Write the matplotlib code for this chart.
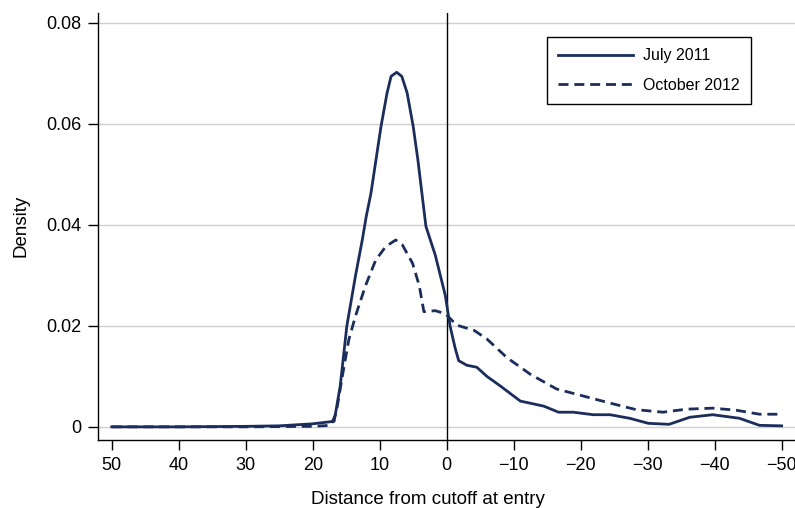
import matplotlib
matplotlib.use('Agg')
import matplotlib.pyplot as plt

# values
july_x = [50, 40, 30, 25, 20, 16.8, 15.9, 14.9, 13.6, 12.6, 12.0, 11.3, 10.55, 9.8, 8.9,
          8.3, 7.47, 6.7, 5.9, 5.0, 4.3, 3.7, 3.1, 1.7, 0.2, -0.5, -1.3, -1.8, -3.0,
          -4.5, -6.0, -8.0, -11.0, -14.5, -16.7, -18.9, -21.9, -24.4, -27.3, -30.1,
          -33.2, -36.3, -39.7, -43.7, -46.7, -50]
july_y = [0, 0, 0.0001, 0.0002, 0.0006, 0.0011, 0.008, 0.020, 0.030, 0.037, 0.0417,
          0.0463, 0.0529, 0.0595, 0.0661, 0.0694, 0.0702, 0.0694, 0.0661, 0.0595, 0.0529,
          0.0463, 0.0397, 0.034, 0.026, 0.020, 0.0154, 0.0131, 0.0122, 0.0118,
          0.0100, 0.0081, 0.0051, 0.0041, 0.0029, 0.0029, 0.0024, 0.0024, 0.0017,
          0.0007, 0.0005, 0.0019, 0.0024, 0.0017, 0.0003, 0.0002]

oct_x = [50, 40, 30, 20, 17.3, 16.5, 15.5, 14.6, 13.6, 12.1, 10.6, 9.1, 7.6, 6.6, 5.1,
         4.1, 3.4, 1.7, 0.2, -1.0, -1.6, -4.1, -6.0, -9.0, -12.5, -16.4, -20.4, -24.4,
         -28.3, -32.3, -35.8, -39.7, -43.2, -46.7, -50]
oct_y = [0, 0, 0, 0.0001, 0.0003, 0.0027, 0.0106, 0.0173, 0.022, 0.028, 0.033, 0.0357,
         0.0370, 0.036, 0.0324, 0.028, 0.0228, 0.0230, 0.0224, 0.0208, 0.0201, 0.0191,
         0.0174, 0.0137, 0.0104, 0.0075, 0.0061, 0.0047, 0.0034, 0.0029, 0.0035,
         0.0037, 0.0033, 0.0025, 0.0025]

x_ticks = [50, 40, 30, 20, 10, 0, -10, -20, -30, -40, -50]
y_ticks = [0, 0.02, 0.04, 0.06, 0.08]
y_tick_labels = ['0', '0.02', '0.04', '0.06', '0.08']

navy = '#1b2d5b'

plt.rcParams['font.family'] = ['Liberation Sans', 'DejaVu Sans']

fig = plt.figure(figsize=(7.95, 5.08), dpi=100)
ax = fig.add_axes([0.1237, 0.1339, 0.8763, 0.8411])

ax.plot(july_x, july_y, color=navy, lw=2.0, label='July 2011', zorder=3)
ax.plot(oct_x, oct_y, color=navy, lw=2.0, ls=(0, (3.6, 2.1)), label='October 2012', zorder=3)
ax.axvline(0, color='black', lw=1.0, zorder=2)

ax.set_xlim(52, -52)
ax.set_ylim(-0.0026, 0.082)
ax.set_xticks(x_ticks)
ax.set_yticks(y_ticks)
ax.set_yticklabels(y_tick_labels)
ax.yaxis.grid(True, color='#cfcfcf', lw=1.0)
ax.set_axisbelow(True)

for s in ['top', 'right']:
    ax.spines[s].set_visible(False)
ax.spines['left'].set_linewidth(1.0)
ax.spines['bottom'].set_linewidth(1.0)
ax.tick_params(labelsize=13, length=7, width=1.0, colors='black')
ax.tick_params(axis='x', pad=5)
ax.tick_params(axis='y', pad=5)

ax.set_xlabel('Distance from cutoff at entry', fontsize=13.5, labelpad=12)
ax.xaxis.set_label_coords(0.473, -0.119)
ax.set_ylabel('Density', fontsize=13.5, labelpad=12)

leg = ax.legend(loc='upper right', bbox_to_anchor=(0.937, 0.943), fontsize=11.5,
                frameon=True, fancybox=False, edgecolor='black', framealpha=1,
                borderaxespad=0, handlelength=4.7, handletextpad=0.65,
                labelspacing=0.9, borderpad=0.7)
leg.get_frame().set_linewidth(1.0)

fig.savefig('out.png', dpi=100)
